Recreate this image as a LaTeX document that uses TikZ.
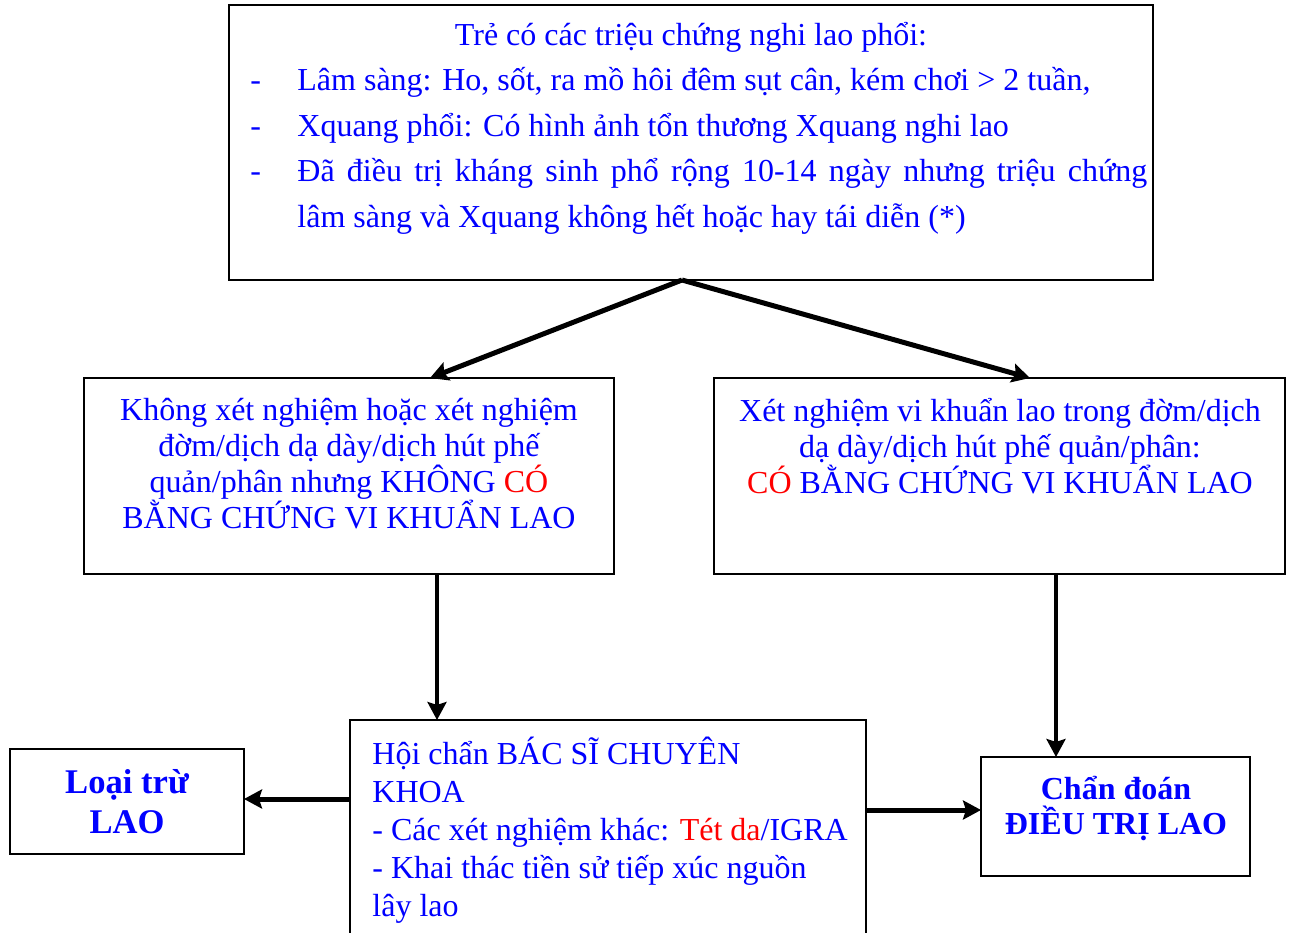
\documentclass[tikz,border=0pt]{standalone}
\usepackage{fontspec}
\setmainfont{Liberation Serif}
\usetikzlibrary{arrows.meta,calc}

\begin{document}
\begin{tikzpicture}[x=0.5pt,y=-0.5pt,
   box/.style={draw, line width=1pt, inner sep=0pt, outer sep=0pt, rectangle},
   txt/.style={text=blue, inner sep=0pt, font=\fontsize{16}{18}\selectfont},
   arr/.style={line width=2pt, -{Stealth[length=9pt, width=9.5pt, inset=1.5pt]}}]
 \clip (0,0) rectangle (1290,932);
 % boxes
 \node (top) [box, minimum width=462pt, minimum height=137.5pt] at (691,142.5) {};
 \node (nobac) [box, minimum width=265pt, minimum height=98pt] at (349,476) {};
 \node (bac) [box, minimum width=285.5pt, minimum height=98pt] at (999.5,476) {};
 \node (hoichan) [box, minimum width=258pt, minimum height=120pt] at (608,840) {};
 \node (loaitru) [box, minimum width=117pt, minimum height=52.5pt] at (127,801.5) {};
 \node (dieutri) [box, minimum width=134.5pt, minimum height=59.5pt] at (1115.5,816.5) {};
 % top text
 \node (title) [txt, anchor=base] at (691,45) {Trẻ có các triệu chứng nghi lao phổi:};
 \foreach \y/\n in {90/1, 136/2, 181/3}
   \node (d\n) [txt, anchor=base west] at (250,\y) {-};
 \node (l1) [txt, anchor=base west] at (297,90) {Lâm sàng: Ho, sốt, ra mồ hôi đêm sụt cân, kém chơi > 2 tuần,};
 \node (l2) [txt, anchor=base west] at (297,136) {Xquang phổi: Có hình ảnh tổn thương Xquang nghi lao};
 \node (l3) [txt, anchor=base west] at (297,181) {\makebox[425pt][s]{Đã điều trị kháng sinh phổ rộng 10-14 ngày nhưng triệu chứng}};
 \node (l4) [txt, anchor=base west] at (297,227) {lâm sàng và Xquang không hết hoặc hay tái diễn (*)};
 % middle text
 \node (t1) [txt, align=center] at (349,464) {Không xét nghiệm hoặc xét nghiệm\\ đờm/dịch dạ dày/dịch hút phế\\ quản/phân nhưng KHÔNG \textcolor{red}{CÓ}\\ BẰNG CHỨNG VI KHUẨN LAO};
 \node (t2) [txt, align=center] at (1000,446) {Xét nghiệm vi khuẩn lao trong đờm/dịch\\ dạ dày/dịch hút phế quản/phân:\\ \textcolor{red}{CÓ} BẰNG CHỨNG VI KHUẨN LAO};
 \node (t3) [txt, align=left, anchor=north west, font=\fontsize{16}{19}\selectfont] at (372,737) {Hội chẩn BÁC SĨ CHUYÊN\\ KHOA\\ - Các xét nghiệm khác: \textcolor{red}{Tét da}/IGRA\\ - Khai thác tiền sử tiếp xúc nguồn\\ lây lao};
 \node (t4) [txt, align=center, font=\fontsize{17.3}{20}\selectfont\bfseries] at (127,802) {Loại trừ\\ LAO};
 \node (t5) [txt, align=center, font=\fontsize{16}{17.5}\selectfont\bfseries] at (1116,808) {Chẩn đoán\\ ĐIỀU TRỊ LAO};
 % arrows
 \coordinate (p0) at ($(top.south)+(-9,0)$);
 \coordinate (p1) at ($(nobac.south)+(88,0)$);
 \coordinate (p2) at ($(bac.south)+(56.5,0)$);
 \coordinate (p3) at ($(loaitru.east)+(0,-2.5)$);
 \coordinate (p4) at ($(dieutri.west)+(0,-6.5)$);
 \draw[arr, line width=2.5pt] (p0) -- ($(nobac.north)+(81,0)$);
 \draw[arr, line width=2.5pt] (p0) -- ($(bac.north)+(30.5,0)$);
 \draw[arr] (p1) -- (p1 |- hoichan.north);
 \draw[arr] (p2) -- (p2 |- dieutri.north);
 \draw[arr, line width=2.5pt] (hoichan.west |- p3) -- (p3);
 \draw[arr, line width=2.5pt] (hoichan.east |- p4) -- (p4);
\end{tikzpicture}
\end{document}
